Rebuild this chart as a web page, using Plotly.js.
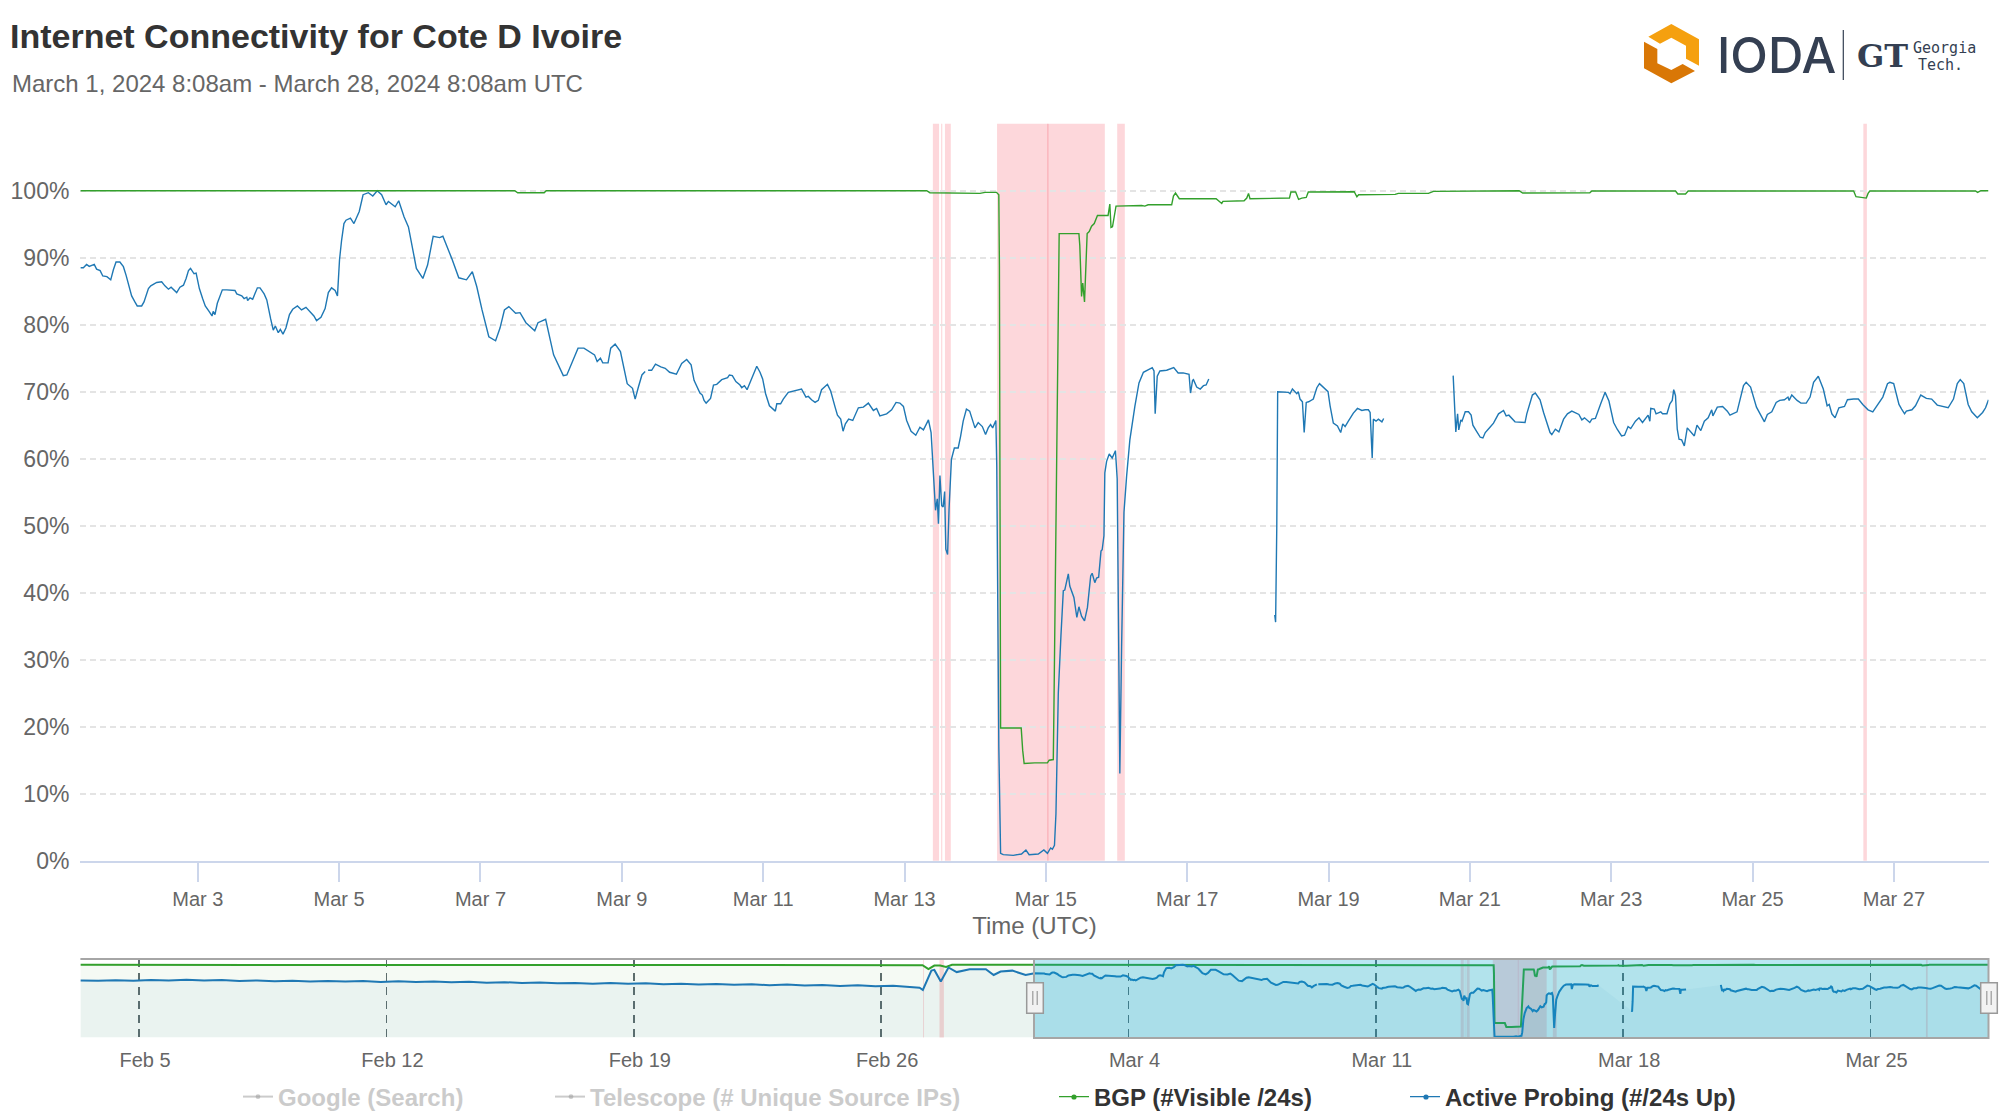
<!DOCTYPE html>
<html>
<head>
<meta charset="utf-8">
<script src="https://cdn.plot.ly/plotly-3.0.1.min.js"></script>
<style>html,body{margin:0;padding:0;background:#fff}#chart{width:2000px;height:1120px}</style>
</head>
<body>
<div id="chart"></div>
<script>
// Hours are counted from the start of the selected window (March 1, 2024 8:08 UTC)
const titleText = 'Internet Connectivity for Cote D Ivoire';
const subtitleText = 'March 1, 2024 8:08am - March 28, 2024 8:08am UTC';
const seriesNames = ['Google (Search)', 'Telescope (# Unique Source IPs)', 'BGP (#Visible /24s)', 'Active Probing (#/24s Up)'];

const blueHours = [
0,1,2.1,3,4.7,5.5,6.7,7.6,9,10.3,11.2,12.1,13.4,14.6,15.5,16.5,17.4,18.5,19.3,20.8,21.6,23.1,23.9,25.9,27.6,28.7,29.9,30.8,32.7,33.8,
35,35.9,36.7,37.4,38.6,39.3,40.4,41.5,42.4,43.7,44.7,45.1,45.7,46.5,47.4,48.2,49.7,52.5,53.1,54.8,55.6,56.5,56.8,57.6,58.5,60.1,61,62.4,63.3,64,
64.6,65.5,66.2,67.2,67.9,68.8,69.8,71,72.1,73.7,75.1,76.6,78,79.3,80.2,81.7,83.1,84.2,85.3,86.5,87.3,88,88.7,89.5,
90.2,91.7,92.9,94.7,96,97.8,99.3,100.8,102.3,103.8,104.6,106.9,108.1,109.9,111.4,112.9,114.1,116.3,117.9,119.8,122,123.1,124.8,126.1,128.5,131.1,133.1,134.6,136.4,138.7,
141,142.5,144,145.5,147.8,149.3,151.3,154.3,155.4,158,160.7,162.2,164,165.2,167.5,169,171,172.8,174.6,175.5,176.6,177.4,179.2,180.1,181.6,183.4,185.7,187.5,188.4,189.5,
190.7,191.8,192.3,192.8,194,195.3,197.1,198.6,200.1,202.4,204.2,205.9,207.4,208.4,210.4,
211.2,211.8,212.5,214,215,216.1,217.8,219.8,220.4,221.4,222.6,224,224.6,225.5,226.4,227.2,228,229.7,230.8,231.7,232.7,234,236,236.5,237.8,238.7,240.4,242.7,244.9,246.4,
247.2,248.3,249.5,250.6,251.7,253.7,254.8,256.3,257.1,258.2,259,259.8,260.9,262.3,264.2,265.9,267.6,269.3,270.4,271.5,273.8,275.5,277,278.3,279.5,280.6,282.1,283.7,285.1,286.3,
288,288.9,289.7,290.4,291,291.4,291.9,292.5,293,293.5,293.9,294.5,295,295.8,296.8,298.1,298.9,299.8,300.9,302,303.8,304.9,306.3,307.4,308.3,309.1,309.8,310.9,311.2,311.5,
311.9,312.5,313.4,316.8,319.6,321.1,322.2,325.3,327.2,328.4,329.5,330.1,330.8,331.3,332.1,333,333.8,334.3,335.5,336,337.4,338.4,339.1,340,341,342,343.1,343.6,344.5,345.1,
345.8,346.6,347,347.6,347.9,348.5,349.4,350.4,351.5,352.1,352.7,353,353.6,354.4,355.3,356.4,358.1,359.5,361,362.6,364,364.6,365,365.7,366.6,368.9,371.3,372.8,374.5,376.5,
377,377.7,378,379.1,380.3,381.4,382.3,383.2,384,
405.6,405.9,406.3,406.6,410.3,410.8,411.6,413.1,413.6,414.2,415,415.6,416.3,417.1,418.7,419.9,420.8,422.4,423.7,424.4,425.5,426.9,428,428.7,429.5,430.6,432.3,433.7,435.2,436.3,
437.4,438,438.7,439.1,440,440.8,442,442.6,450,
466.2,467.1,467.7,468.1,468.8,469.2,470.3,471.4,472.3,472.9,474,475.4,476.3,477.1,478.7,479.9,481.6,483.3,484.2,485.1,487.2,490.6,491.2,493.1,494.1,495.7,496.9,499.1,499.7,500.9,
502.1,503.7,505,506.5,508.9,509.9,510.8,512.6,513.3,514.5,516.3,517.8,519.1,520.7,521.9,523.4,524.4,525.6,526.5,528.1,529.3,530.5,532.4,533,533.3,534.5,535.1,536.7,537.3,538.8,
539.8,540.6,541.1,541.7,542.3,542.9,543.8,544.7,545.7,547.2,548.1,549,550.3,551.5,552.8,554,554.4,555.9,557.7,559.3,560.2,562.6,563.9,564.8,565.7,567.2,569.2,570.9,571.9,572.9,
574.4,575.9,577.1,578.7,579.9,580.3,581.2,583,584.3,586.1,587.4,588.6,590.2,591.9,593.2,593.9,594.8,595.9,597.2,599.1,600.1,602.2,603.8,605.3,607.1,608.7,610,612.1,613.7,614.5,
615.8,617.6,618.5,619.5,620.1,622,623.2,625,626.9,628.7,630.6,632.4,634.3,636.1,637.4,638.4,639.6,641.1,642.3,644.2,646,647,648];

const blueValues = [
88.5,88.5,89,88.7,89,88.3,88.07,87.27,87.17,86.7,88.2,89.36,89.36,88.66,87.4,85.9,84.3,83.4,82.8,82.8,83.4,85.4,85.8,86.3,86.4,85.8,85.3,85.6,84.8,85.6,
85.9,86.9,88.07,88.4,87.6,87.7,85.4,83.9,82.8,82,81.3,82,81.5,83.2,84.3,85.2,85.2,85.1,84.6,84.3,83.9,84.1,83.6,84,83.8,85.5,85.5,84.6,83.7,82,
80.9,79.2,79.8,78.8,79.3,78.6,79.5,81.5,82.3,82.8,82.2,82.6,82,81.3,80.6,81.1,82.4,84.8,85.5,85.1,84.3,89.7,92.6,95.1,
95.6,95.9,95.1,96.9,99.4,99.7,99.2,100,99.4,97.9,98.4,97.6,98.5,96.1,94.6,91.1,88.4,86.9,88.9,93.2,93,93.2,91.4,89.9,87,86.7,87.9,85.7,82.2,78.2,
77.6,79.5,82.2,82.7,81.7,81.8,80.3,79.1,80.3,80.8,75.5,74,72.4,72.5,75,76.5,76.5,76,75.5,74.5,75,74.3,74.3,76.5,77.1,76,71.2,70.5,68.9,70.7,
72.5,73,null,73.2,73.2,74.1,73.7,73.5,72.9,72.6,74.2,74.8,74,71.7,69.8,
69.5,68.7,68.3,69,71,71.1,71.8,72.1,72.5,72.4,71.5,71,70.6,70.9,70.3,71.1,72.1,73.8,72.9,71.9,69.7,67.9,67.1,68.2,68.2,68.9,69.9,70.1,70.4,69.2,
69.3,68.8,68.4,68.7,70.3,71.1,70.1,67.7,66.5,65.9,64.1,65.2,65.9,65.7,67.6,67.7,68.3,67.2,67.5,66.4,66.7,67.3,68.4,68.3,67.8,65.7,64.1,63.5,64.7,64.3,
65.8,63.9,57.5,52.3,54,50.3,57.5,53,52.8,55.1,46.5,45.7,52.5,59.9,61.6,61.6,63.3,65.6,67.4,67.1,64.6,65.4,64.8,63.6,64.6,65.1,64.6,65.7,58.9,37,
17,1.1,0.9,0.8,1,1.6,0.9,1,1.6,1.1,1.9,1.7,2.3,7,25,33.6,40.3,40.4,42.8,41,39.3,36.3,37.9,36.5,35.8,37.8,42.5,42.9,41.5,42.2,
42.3,46.2,46.4,48.5,57.9,59.6,60.7,60.1,61.2,57,32,13,32,52,57.4,62.8,67.8,71.3,72.9,73.3,73.6,73.1,66.7,72.3,73.1,73.2,73.6,72.8,72.8,72.6,
69.8,71.7,71.8,70.7,70.4,70.9,71,71.9,null,
36.7,35.6,50,70,69.9,69.7,70.4,69.7,70,68.9,68.5,63.9,68.4,68.5,68.9,70.6,71.2,70.5,70,67.9,65.3,64.9,63.9,65.2,64.8,65.6,66.8,67.5,67.2,67.3,
67.3,66.9,60.1,65.9,65.6,65.9,65.5,66,null,
72.4,64,66.7,64.3,65.8,65.6,67,67,66.5,65,64.2,63.2,63.1,63.9,64.7,65.3,66.7,67.2,66.4,66.5,65.5,65.4,66.7,69.5,69.8,68.8,66.9,63.9,63.6,64.4,
64,65.9,66.7,67.1,66.6,65.8,66.1,65.4,65.9,66,68.2,69.9,68.6,65.4,64.4,63.4,63.5,64.8,64.5,65.6,66.1,65.4,66.5,65.6,67.5,67.4,66.7,67,66.7,66.7,
68.2,68.7,70.3,69.4,64.4,62.9,62.8,61.9,64.6,63.9,63.4,65,64.2,65.6,66.1,67.3,66.4,67.7,67.8,67.1,66.5,67,69.4,70.9,71.4,70.7,67.7,66.4,65.5,66.6,
67,68.4,68.7,68.8,69.2,68.7,69.5,68.7,68.3,68.3,69.2,71.4,72.3,70.4,67.9,68.1,66.7,66.1,67.6,67.8,68.8,68.9,68.9,68.1,67.3,67,67.9,69.2,71.2,71.4,
71.2,68.1,67.4,66.7,67.1,67.3,67.9,69.5,69,68.9,68,67.8,67.6,68.9,71.2,71.8,71.2,68.1,67,66.1,66.9,67.6,68.8];

const greenHours = [
0,29,30,35,36,147.5,148.5,157.5,158.2,287.4,288.5,305.5,307.2,311.1,311.9,312.1,312.5,319.5,320,320.5,324.1,328.4,329,330.4,330.6,331.5,332.1,332.4,339.1,339.4,
340,340.4,341,341.5,341.9,342.6,343.4,344.3,345.4,349,349.6,350,350.5,351.7,360.4,361.5,362.6,370.6,371.2,371.9,373.2,385.7,387.6,388,395.2,396.1,396.7,397.2,401.8,410.6,
411.1,412.7,413.7,414.8,416.3,417,432.6,433.5,434.1,446.5,447.6,457.8,459.5,488.6,489.8,505.2,512.6,513.3,541.7,542.5,545.1,546,602.2,603,605.9,606.5,607.1,607.7,643.6,644.3,
645.4,648];
const greenValues = [
100,100,99.95,99.95,100,100,99.7,99.7,100,100,99.7,99.6,99.75,99.75,99.4,88.8,19.8,19.8,16.5,14.5,14.6,14.6,15,15.1,22,57,79,93.6,93.6,91.8,
84.2,86.2,83.4,89.8,93.6,93.9,94.7,95.1,96.3,96.3,98,94.5,94.6,97.7,97.8,97.7,97.9,97.9,99.2,99.65,98.8,98.8,98.1,98.4,98.5,98.9,99.6,98.8,98.8,98.9,
99.8,99.8,98.7,98.9,99,99.8,99.85,99.1,99.4,99.45,99.6,99.6,99.9,100,99.65,99.65,99.7,99.95,99.95,99.5,99.5,99.95,99.95,99.1,98.9,98.9,99.6,99.95,99.95,99.75,
100,100];

// Navigator only: the 27 days before the selected window
const navBlueHours = [
-648,-636,-624,-612,-600,-588,-576,-564,-552,-540,-528,-516,-504,-492,-480,-468,-456,-444,-432,-420,-408,-396,-384,-372,-360,-348,-336,-324,-312,-300,
-288,-276,-264,-252,-240,-228,-216,-204,-192,-180,-168,-156,-144,-132,-120,-108,-96,-84,-78,-75.8,-70,-68,-63.6,-58.4,-52.8,-44,-33,-27.7,-23,-15,-6,0];
const navBlueValues = [
78.5,78,78.8,78.2,79,78.4,79.3,78.4,79.2,77.8,78.4,77.4,78,76.9,77.7,76.9,77.6,76.5,77.4,76.4,77.2,75.9,76.6,75.4,76.1,74.9,75.7,74.6,75.1,74,
74.9,73.8,74.5,73.2,73.9,73,73.7,72.5,73.3,72,72.8,71.6,72.2,71,71.8,70.6,71.2,70,68.5,65.4,92,93,77,96.3,90,94,94,86,90.8,92,86,88.5];
const navGreenHours = [-648,-80,-76,-72,-68,-64,-60,-56,0];
const navGreenValues = [100,100,99.5,94,99,99,97,100,100];

const alertStart = [289.5,292.3,293.6,311.3,328.3,352.1,605.5];
const alertEnd = [291.6,292.7,295.6,328.8,347.9,354.7,606.7];
const navAlertStart = [-75.6,-64.5];
const navAlertEnd = [-75,-61.5];

const yTickValues = [0,10,20,30,40,50,60,70,80,90,100,110];
const yTickLabels = ['0%','10%','20%','30%','40%','50%','60%','70%','80%','90%','100%',''];

const BLUE = '#1f78b4', GREEN = '#33a02c', W = 2000, H = 1120;
const T0 = Date.UTC(2024, 2, 1, 8, 8);
const toDate = h => new Date(T0 + h * 3600000).toISOString().replace('Z', '').slice(0, 19);
const px = v => v / W, py = v => 1 - v / H;
const dates = a => a.map(toDate);

const traces = [
  {name: seriesNames[0], x: [toDate(0)], y: [null], type: 'scatter', mode: 'lines', visible: 'legendonly', legend: 'legend',
   line: {color: '#999999', width: 2}},
  {name: seriesNames[1], x: [toDate(0)], y: [null], type: 'scatter', mode: 'lines', visible: 'legendonly', legend: 'legend2',
   line: {color: '#999999', width: 2}},
  {name: seriesNames[3], x: dates(blueHours), y: blueValues, type: 'scatter', mode: 'lines', legend: 'legend4',
   line: {color: BLUE, width: 1.4}, connectgaps: false, hoverinfo: 'skip'},
  {name: seriesNames[2], x: dates(greenHours), y: greenValues, type: 'scatter', mode: 'lines', legend: 'legend3',
   line: {color: GREEN, width: 1.4}, hoverinfo: 'skip'},
  {name: 'BGP navigator', x: dates(navGreenHours.concat(greenHours)), y: navGreenValues.concat(greenValues), xaxis: 'x2', yaxis: 'y2',
   type: 'scatter', mode: 'lines', fill: 'tozeroy', fillcolor: 'rgba(51,160,44,0.05)', showlegend: false,
   line: {color: GREEN, width: 2}, hoverinfo: 'skip'},
  {name: 'Active Probing navigator', x: dates(navBlueHours.concat(blueHours)), y: navBlueValues.concat(blueValues), xaxis: 'x2', yaxis: 'y2',
   type: 'scatter', mode: 'lines', fill: 'tozeroy', fillcolor: 'rgba(31,120,180,0.05)', showlegend: false,
   line: {color: BLUE, width: 2}, connectgaps: false, hoverinfo: 'skip'}
];

function band(h0, h1, xref, yref) {
  return {type: 'rect', xref, yref, x0: toDate(h0), x1: toDate(h1), y0: 0, y1: 1, layer: 'below',
          fillcolor: 'rgba(242,0,26,0.157)', line: {width: 0}};
}
function pxRect(x0, y0, x1, y1, fill, stroke, lw, layer) {
  return {type: 'rect', xref: 'paper', yref: 'paper', x0: px(x0), x1: px(x1), y0: py(y0), y1: py(y1), layer: layer || 'above',
          fillcolor: fill, line: {color: stroke || 'rgba(0,0,0,0)', width: lw || 0}};
}
function pxLine(x0, y0, x1, y1, color, w) {
  return {type: 'line', xref: 'paper', yref: 'paper', x0: px(x0), x1: px(x1), y0: py(y0), y1: py(y1), layer: 'above', line: {color, width: w}};
}
function pxDot(cx, cy, r, color) {
  return {type: 'circle', xref: 'paper', yref: 'paper', x0: px(cx - r), x1: px(cx + r), y0: py(cy - r), y1: py(cy + r), layer: 'above',
          fillcolor: color, line: {width: 0}};
}
function pxPath(pts, fill) {
  const d = pts.map((p, i) => (i ? 'L' : 'M') + px(p[0]) + ',' + py(p[1])).join(' ') + ' Z';
  return {type: 'path', xref: 'paper', yref: 'paper', path: d, layer: 'above', fillcolor: fill, line: {width: 0}};
}
function note(text, x, y, size, color, family, weight) {
  return {text, x: px(x), y: py(y), xref: 'paper', yref: 'paper', xanchor: 'left', yanchor: 'middle', showarrow: false,
          font: {size, color, family, weight: weight || 400}};
}

const shapes = [];
alertStart.forEach((s, i) => shapes.push(band(s, alertEnd[i], 'x', 'y domain')));
alertStart.forEach((s, i) => shapes.push(band(s, alertEnd[i], 'x2', 'y2 domain')));
navAlertStart.forEach((s, i) => shapes.push(band(s, navAlertEnd[i], 'x2', 'y2 domain')));
// navigator frame, selection mask and handles
shapes.push(pxLine(80.4, 959, 1034, 959, '#a6a6a6', 2));
shapes.push(pxRect(1034, 959, 1988.5, 1038, 'rgba(0,165,215,0.27)', '#a6a6a6', 2));
[1035, 1989].forEach(c => {
  shapes.push(pxRect(c - 8.3, 982.7, c + 8.3, 1013.3, '#f2f2f2', '#999999', 1.5));
  shapes.push(pxLine(c - 2.2, 991, c - 2.2, 1005, '#999999', 1.2));
  shapes.push(pxLine(c + 2.2, 991, c + 2.2, 1005, '#999999', 1.2));
});
// legend glyph dots
shapes.push(pxDot(258, 1096.7, 2.4, '#cccccc'), pxDot(571, 1096.7, 2.4, '#cccccc'),
            pxDot(1074, 1097, 2.6, GREEN), pxDot(1426, 1097, 2.6, BLUE));
// IODA logo
const lg = (u, v) => [1600 + u / 3, v / 3];
shapes.push(pxPath([lg(145,110),lg(214,72),lg(297,118),lg(297,197),lg(258,176),lg(258,137),lg(214,113),lg(180,131)], '#f5a00f'));
shapes.push(pxPath([lg(132,125),lg(172,147),lg(172,190),lg(214,210),lg(248,192),lg(285,213),lg(214,250),lg(132,205)], '#d97706'));
shapes.push(pxLine(1843.3, 30, 1843.3, 80, '#343f52', 1.2));

const annotations = [
  note(subtitleText, 10, 84, 24, '#666666', 'Liberation Sans'),
  note('IODA', 1715, 55, 49, '#343f52', 'Inter', 500),
  note('GT', 1855, 56, 32, '#343f52', 'DejaVu Serif', 700),
  note('Georgia', 1911, 48, 15, '#343f52', 'DejaVu Sans Mono', 400),
  note('Tech.', 1916, 65, 15, '#343f52', 'DejaVu Sans Mono', 400)
];

const legendBase = (x, color) => ({
  x: px(x), y: py(1097), xref: 'paper', yref: 'paper', xanchor: 'left', yanchor: 'middle', orientation: 'h',
  bgcolor: 'rgba(0,0,0,0)', borderwidth: 0, itemwidth: 30, itemclick: false, itemdoubleclick: false,
  font: {family: 'Liberation Sans', size: 24, color, weight: 700}
});

const layout = {
  width: W, height: H, margin: {l: 0, r: 0, t: 0, b: 0, autoexpand: false},
  paper_bgcolor: '#fff', plot_bgcolor: 'rgba(0,0,0,0)', hovermode: false, showlegend: true,
  font: {family: 'Liberation Sans', color: '#666666'},
  title: {text: titleText, x: px(10), y: py(36), xref: 'paper', yref: 'paper', xanchor: 'left', yanchor: 'middle',
          font: {family: 'Liberation Sans', size: 34, color: '#333333', weight: 700}},
  xaxis: {domain: [px(80.4), px(1988.5)], anchor: 'y', type: 'date', range: [toDate(0), toDate(648)],
          tick0: '2024-03-03', dtick: 172800000, tickformat: '%b %-d', ticks: 'outside', ticklen: 19, tickwidth: 2, tickcolor: '#ccd6eb',
          showline: true, linecolor: '#ccd6eb', linewidth: 2, showgrid: false, zeroline: false,
          tickfont: {size: 20, color: '#666666'},
          title: {text: 'Time (UTC)', font: {size: 24, color: '#666666'}, standoff: 8}},
  yaxis: {domain: [py(860.7), py(123.7)], anchor: 'x', range: [0, 110], tickvals: yTickValues, ticktext: yTickLabels,
          ticks: '', showline: false, zeroline: false, gridcolor: '#e4e4e4', griddash: '6px,4px', gridwidth: 1.6,
          ticklabelstandoff: 10, tickfont: {size: 23, color: '#666666'}},
  xaxis2: {domain: [px(80.4), px(1988.5)], anchor: 'y2', type: 'date', range: [toDate(-648), toDate(648)],
           tick0: '2024-02-05', dtick: 604800000, tickformat: '%b %-d', ticks: '', showline: false, zeroline: false,
           showgrid: true, gridcolor: '#5f6b70', griddash: '8px,6px', gridwidth: 1.5,
           ticklabelshift: 6, ticklabelstandoff: 8, tickfont: {size: 20, color: '#666666'}},
  yaxis2: {domain: [py(1037.5), py(959)], anchor: 'x2', range: [0, 108], showticklabels: false, ticks: '', showgrid: false,
           zeroline: false, showline: false},
  legend: legendBase(238, '#999999'),
  legend2: legendBase(550, '#999999'),
  legend3: legendBase(1054, '#333333'),
  legend4: legendBase(1405, '#333333'),
  shapes, annotations
};

Plotly.newPlot('chart', traces, layout, {displayModeBar: false, staticPlot: true});
</script>
</body>
</html>
